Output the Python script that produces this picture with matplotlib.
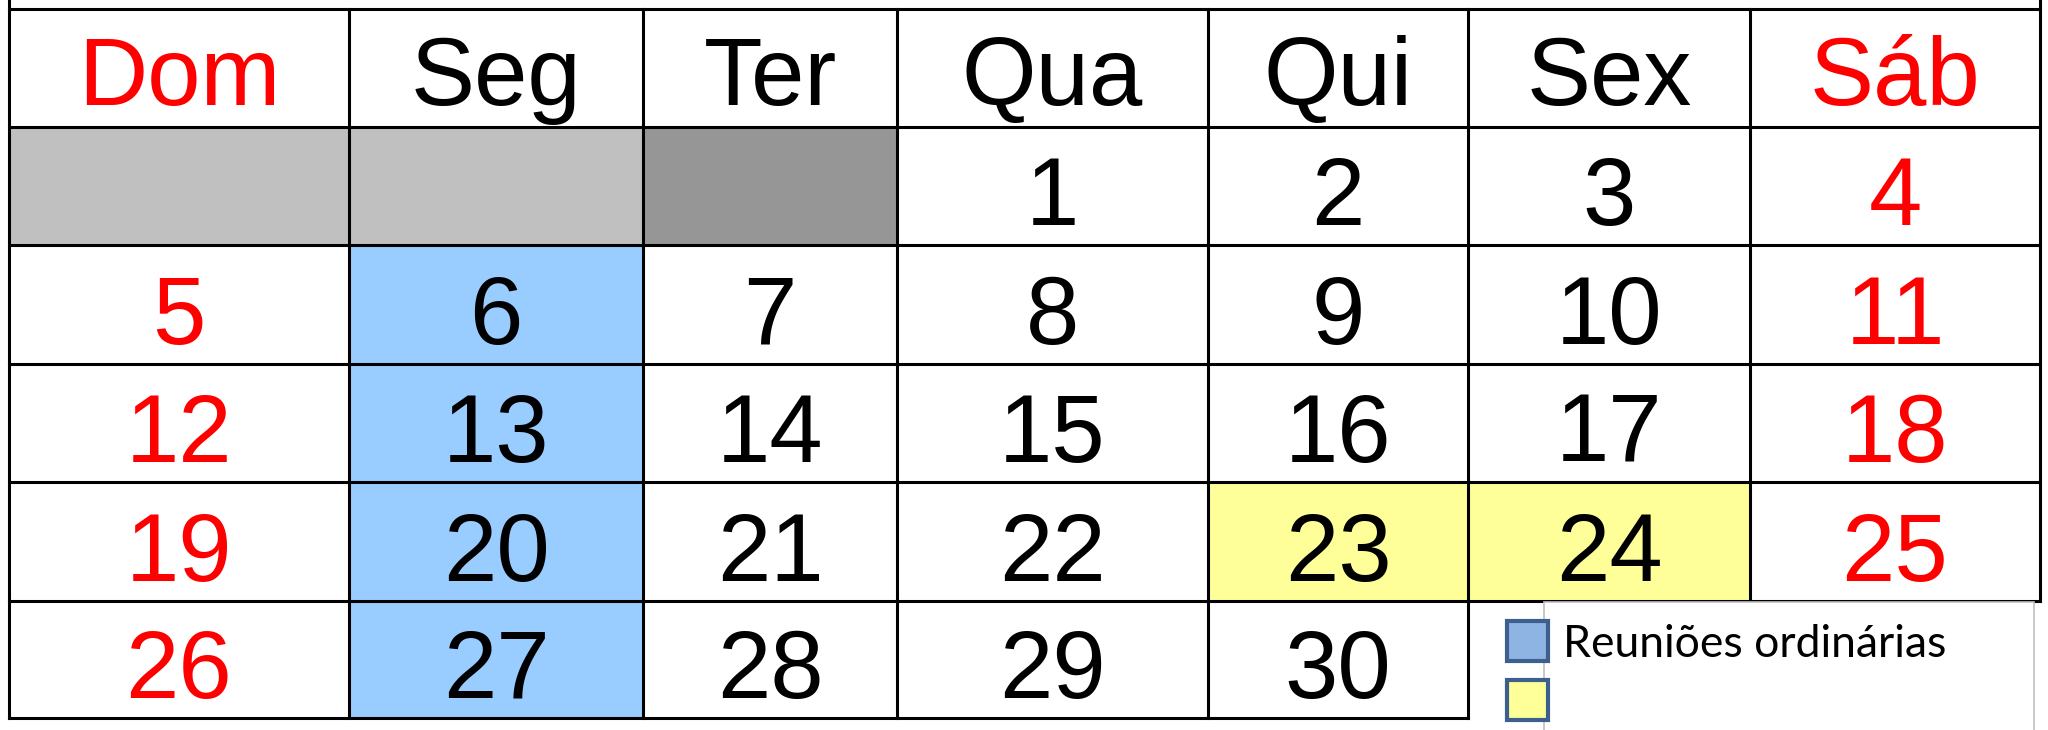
import matplotlib.pyplot as plt
from matplotlib.patches import Rectangle

# calendar data
dias = ['Dom', 'Seg', 'Ter', 'Qua', 'Qui', 'Sex', 'Sáb']
semanas = [
    [None, None, None, 1, 2, 3, 4],
    [5, 6, 7, 8, 9, 10, 11],
    [12, 13, 14, 15, 16, 17, 18],
    [19, 20, 21, 22, 23, 24, 25],
    [26, 27, 28, 29, 30, None, None],
]
vazias = {(0, 0): '#c0c0c0', (0, 1): '#c0c0c0', (0, 2): '#969696'}
reunioes = [6, 13, 20, 27]
destaque = [23, 24]
legenda = ['Reuniões ordinárias', '']

# layout in pixels
xs = [9, 349, 643, 897, 1208, 1468, 1750, 2040]
ys = [9, 127, 245, 364, 482, 601, 718]
lw = 2.2

fig = plt.figure(figsize=(20.48, 7.30), dpi=100)
ax = fig.add_axes([0, 0, 1, 1])
ax.set_xlim(0, 2048)
ax.set_ylim(730, 0)
ax.axis('off')

fs = 69
fam = ['Liberation Sans', 'DejaVu Sans']

# header
for c, d in enumerate(dias):
    cor = 'red' if c in (0, 6) else 'black'
    ax.text((xs[c] + xs[c+1]) / 2, ys[1] - 22, d, ha='center', va='baseline',
            fontsize=fs, color=cor, family=fam)

# weeks
for r, sem in enumerate(semanas):
    y0, y1 = ys[r+1], ys[r+2]
    for c, dia in enumerate(sem):
        x0, x1 = xs[c], xs[c+1]
        fundo = None
        if (r, c) in vazias:
            fundo = vazias[(r, c)]
        elif dia in reunioes:
            fundo = '#99ccff'
        elif dia in destaque:
            fundo = '#ffff99'
        if fundo:
            ax.add_patch(Rectangle((x0, y0), x1 - x0, y1 - y0, facecolor=fundo, edgecolor='none', zorder=1))
        if dia is not None:
            cor = 'red' if c in (0, 6) else 'black'
            ax.text((x0 + x1) / 2, y1 - 20, str(dia), ha='center', va='baseline',
                    fontsize=fs, color=cor, family=fam, zorder=3)

# grid lines
for i, y in enumerate(ys):
    xe = xs[-1] if i < len(ys) - 1 else xs[5]
    ax.plot([xs[0], xe], [y, y], color='black', lw=lw, solid_capstyle='projecting', zorder=2)
for j, x in enumerate(xs):
    ya = 0 if j in (0, len(xs) - 1) else ys[0]
    yb = ys[-1] if j <= 5 else ys[-2]
    ax.plot([x, x], [ya, yb], color='black', lw=lw, solid_capstyle='projecting', zorder=2)

# legend box
ax.add_patch(Rectangle((1544, 602), 490, 200, facecolor='white', edgecolor='#bfbfbf', lw=1.2, zorder=4))
faces = ['#8eb4e3', '#ffff99']
for k, (txt, fc) in enumerate(zip(legenda, faces)):
    yc = 641 + k * 59
    ax.add_patch(Rectangle((1507, yc - 20), 41, 40, facecolor=fc, edgecolor='#3c5f8e', lw=3, zorder=5))
    if txt:
        ax.text(1563, yc + 16, txt, ha='left', va='baseline', fontsize=32, color='black',
                family=['Lato', 'DejaVu Sans'], zorder=5)

fig.savefig('out.png', dpi=100)
